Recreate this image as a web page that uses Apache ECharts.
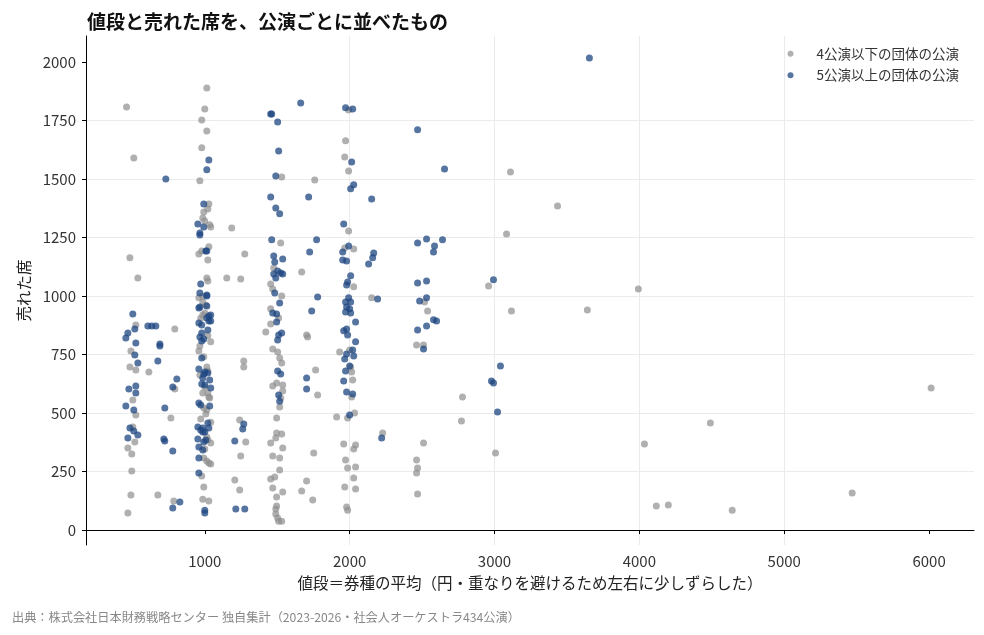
<!DOCTYPE html>
<html>
<head>
<meta charset="utf-8">
<script src="https://cdn.jsdelivr.net/npm/echarts@6/dist/echarts.min.js"></script>
<style>
  html, body { margin: 0; padding: 0; background: #fff; }
  #chart { width: 984px; height: 635px; }
</style>
</head>
<body>
<div id="chart"></div>
<script>
// 4公演以下の団体 [値段, 売れた席]
var smallGroups = [
  [460,1808],[510,1590],[483,1163],[538,1077],[524,876],[793,859],[490,765],[483,697],[524,684],[614,675],
  [793,603],[503,556],[524,491],[766,479],[503,440],[517,376],[469,350],[496,325],[496,252],[490,150],
  [676,150],[786,124],[469,73],
  [1014,1889],[1000,1799],[979,1752],[1014,1705],[979,1633],[966,1492],[1028,1393],[1021,1372],[993,1359],[986,1333],
  [1000,1321],[1034,1304],[1041,1295],[1186,1291],[1028,1210],[979,1192],[959,1180],[1021,1154],[1276,1180],[1014,1077],
  [1021,1064],[1152,1077],[1248,1073],[986,998],[959,992],[986,974],[1000,927],[986,919],[1041,804],[966,786],
  [959,765],[1014,697],[1021,680],[966,662],[986,586],[1021,586],[1028,568],[1034,564],[993,521],[1014,513],
  [1007,496],[972,474],[1014,397],[1021,385],[1041,372],[1000,346],[993,308],[1014,295],[1041,282],[979,231],
  [993,184],[986,132],[1028,124],[1028,286],[1007,960],[972,905],[1021,830],[993,740],[1000,610],[1041,460],
  [1207,214],[1241,171],[1248,316],[1283,376],[1241,470],[1269,722],[1269,697],
  [1531,1509],[1759,1496],[1524,1227],[1476,1120],[1669,1103],[1455,1051],[1469,1030],[1531,1000],[1455,945],[1510,906],
  [1455,880],[1421,846],[1469,774],[1503,761],[1517,735],[1531,714],[1496,628],[1469,615],[1538,620],[1538,594],
  [1524,564],[1517,526],[1496,479],[1496,415],[1531,410],[1490,393],[1455,372],[1538,350],[1469,316],[1517,308],
  [1517,256],[1483,227],[1455,218],[1469,180],[1496,141],[1538,162],[1496,103],[1490,90],[1490,68],[1503,51],
  [1510,38],[1531,38],[1669,167],
  [1703,833],[1710,825],[1765,684],[1779,577],[1752,329],[1703,209],[1745,128],
  [1993,1795],[1972,1663],[1966,1594],[1993,1534],[1993,1278],[1966,1205],[2028,1201],[2028,1039],[2152,992],[1931,761],
  [2000,769],[2007,697],[2014,675],[2021,641],[2014,568],[2034,500],[1986,479],[1910,483],[2228,415],[1959,368],
  [2041,363],[2028,346],[1972,299],[1986,265],[2041,269],[2028,222],[1966,184],[2041,175],[1979,98],[1986,85],
  [3110,1530],[3083,1265],[2959,1043],[2517,974],[2538,936],[3117,936],[2462,791],[2510,791],[2779,568],[2772,466],
  [2510,372],[2462,299],[2469,265],[2462,244],[3007,329],[2469,154],
  [3435,1385],[3641,940],[3993,1030],[4035,368],[4117,103],[4200,107],[4490,457],[4641,85],[5469,158],[6014,607]
];

// 5公演以上の団体 [値段, 売れた席]
var largeGroups = [
  [731,1500],[503,923],[607,872],[634,872],[662,872],[517,859],[469,842],[455,821],[524,799],[690,795],
  [690,786],[517,748],[538,714],[676,722],[807,645],[779,611],[524,615],[476,603],[524,586],[455,530],
  [510,513],[724,521],[483,436],[510,423],[538,406],[469,393],[717,389],[724,380],[779,338],[828,120],[779,94],
  [1028,1581],[1014,1539],[993,1393],[952,1308],[993,1295],[966,1269],[966,1261],[1014,1192],[1007,1192],[972,1051],
  [966,1013],[1014,1004],[1014,1000],[1014,957],[966,953],[959,949],[1041,919],[1014,906],[1028,915],[1028,893],
  [1041,893],[959,885],[979,876],[1021,855],[979,842],[966,825],[993,816],[979,808],[979,735],[959,688],
  [1000,675],[1021,671],[993,667],[986,650],[1034,641],[979,624],[1000,620],[1041,607],[959,543],[972,534],
  [1034,530],[952,440],[972,427],[1000,419],[1021,457],[1028,436],[986,436],[986,419],[952,389],[993,376],
  [1007,385],[959,355],[986,342],[959,308],[959,244],[1000,85],[1000,73],
  [1214,90],[1276,90],[1207,380],[1262,432],[1269,453],
  [1662,1825],[1462,1778],[1455,1778],[1503,1744],[1510,1620],[1490,1513],[1455,1423],[1717,1423],[1490,1376],[1517,1351],
  [1462,1240],[1772,1240],[1724,1188],[1476,1171],[1538,1158],[1483,1145],[1503,1107],[1524,1098],[1538,1094],[1476,1094],
  [1490,1077],[1483,1013],[1779,996],[1517,970],[1469,927],[1496,889],[1496,923],[1531,842],[1510,833],[1503,812],
  [1738,936],[1503,680],[1524,667],[1510,577],[1517,550],[1703,650],[1703,603],
  [1972,1804],[2021,1799],[2014,1573],[2028,1475],[2007,1458],[2152,1415],[1959,1308],[1993,1214],[1952,1188],[1952,1154],
  [1979,1150],[2166,1184],[2159,1163],[2131,1137],[2007,1086],[1986,1060],[1979,1047],[2193,987],[1993,992],[1972,974],
  [2007,974],[1979,953],[2000,945],[1972,932],[2007,927],[2041,889],[1959,851],[1979,859],[1986,833],[2041,804],
  [2021,769],[1979,752],[2028,744],[1966,731],[2000,701],[1972,680],[1959,637],[1979,590],[2021,581],[2000,491],[2221,393],
  [2469,1710],[2655,1543],[2469,1227],[2531,1244],[2586,1214],[2641,1240],[2579,1188],[2469,1056],[2531,1064],[2993,1069],
  [2483,979],[2531,992],[2579,898],[2600,893],[2469,855],[2531,872],[2510,774],[3041,701],[2979,637],[2993,628],
  [3021,504],[3655,2017]
];

var xTicks = [1000, 2000, 3000, 4000, 5000, 6000];
var yTicks = [0, 250, 500, 750, 1000, 1250, 1500, 1750, 2000];

var FONT = '"Noto Sans CJK JP", "Noto Sans", sans-serif';

function plainNumber(v) {
  return String(v);
}

var chart = echarts.init(document.getElementById('chart'));
chart.setOption({
  backgroundColor: '#fff',
  textStyle: { fontFamily: FONT },
  animation: false,
  title: {
    text: '値段と売れた席を、公演ごとに並べたもの',
    left: 82,
    top: 7,
    textStyle: { fontSize: 19, fontWeight: 'bold', color: '#111', fontFamily: FONT }
  },
  legend: {
    orient: 'vertical',
    right: 20,
    top: 42,
    itemWidth: 42,
    itemHeight: 6,
    itemGap: 8,
    textStyle: { fontSize: 13.5, color: '#333', fontFamily: FONT },
    data: [
      { name: '4公演以下の団体の公演', icon: 'circle' },
      { name: '5公演以上の団体の公演', icon: 'circle' }
    ]
  },
  grid: { left: 86, right: 10, top: 36, bottom: 90 },
  xAxis: {
    type: 'value',
    min: 180,
    max: 6310,
    minInterval: 1000,
    maxInterval: 1000,
    name: '値段＝券種の平均（円・重なりを避けるため左右に少しずらした）',
    nameLocation: 'middle',
    nameGap: 30,
    nameTextStyle: { fontSize: 15.5, color: '#222' },
    axisLine: { lineStyle: { color: '#000', width: 1 } },
    axisTick: { customValues: xTicks, length: 4, lineStyle: { color: '#000' } },
    axisLabel: { customValues: xTicks, formatter: plainNumber, fontSize: 15, color: '#333', margin: 9 },
    splitLine: { show: true, showMinLine: false, showMaxLine: false, lineStyle: { color: '#ebebeb' } }
  },
  yAxis: {
    type: 'value',
    min: -64,
    max: 2111,
    minInterval: 250,
    maxInterval: 250,
    name: '売れた席',
    nameLocation: 'middle',
    nameGap: 54,
    nameTextStyle: { fontSize: 15.5, color: '#222' },
    axisLine: { show: true, lineStyle: { color: '#000', width: 1 } },
    axisTick: { show: true, customValues: yTicks, length: 4, lineStyle: { color: '#000' } },
    axisLabel: { customValues: yTicks, formatter: plainNumber, fontSize: 15, color: '#333', margin: 10 },
    splitLine: { show: true, showMinLine: false, showMaxLine: false, lineStyle: { color: '#ebebeb' } }
  },
  series: [
    {
      name: '4公演以下の団体の公演',
      type: 'scatter',
      symbolSize: 7,
      itemStyle: { color: '#8f8f8f', opacity: 0.7 },
      data: smallGroups
    },
    {
      name: '5公演以上の団体の公演',
      type: 'scatter',
      symbolSize: 7,
      itemStyle: { color: '#1d4580', opacity: 0.75 },
      data: largeGroups
    }
  ],
  graphic: [{
    type: 'text',
    left: 12,
    top: 611,
    style: {
      text: '出典：株式会社日本財務戦略センター 独自集計（2023-2026・社会人オーケストラ434公演）',
      fontSize: 12.2,
      fill: '#888',
      fontFamily: FONT
    }
  }]
});
</script>
</body>
</html>
